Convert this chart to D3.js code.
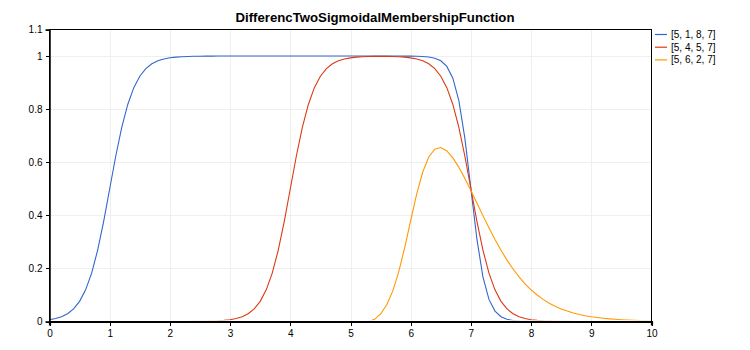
<!DOCTYPE html>
<html>
<head>
<meta charset="utf-8">
<script src="https://cdn.jsdelivr.net/npm/d3@7"></script>
<style>
  html, body { margin: 0; padding: 0; background: #fff; }
  svg { display: block; font-family: "Liberation Sans", Arial, sans-serif; }
</style>
</head>
<body>
<svg id="chart" width="750" height="350"></svg>
<script>
// x samples 0 .. 10, step 0.1
const xValues = d3.range(0, 101).map(i => +(i / 10).toFixed(1));

// [5, 1, 8, 7]
const seriesA = [
  0.0067, 0.0110, 0.0180, 0.0293, 0.0474, 0.0759, 0.1192, 0.1824, 0.2689, 0.3775,
  0.5000, 0.6225, 0.7311, 0.8176, 0.8808, 0.9241, 0.9526, 0.9707, 0.9820, 0.9890,
  0.9933, 0.9959, 0.9975, 0.9985, 0.9991, 0.9994, 0.9997, 0.9998, 0.9999, 0.9999,
  1.0000, 1.0000, 1.0000, 1.0000, 1.0000, 1.0000, 1.0000, 1.0000, 1.0000, 1.0000,
  1.0000, 1.0000, 1.0000, 1.0000, 1.0000, 1.0000, 1.0000, 1.0000, 1.0000, 1.0000,
  1.0000, 1.0000, 1.0000, 1.0000, 1.0000, 1.0000, 1.0000, 1.0000, 0.9999, 0.9998,
  0.9997, 0.9993, 0.9983, 0.9963, 0.9918, 0.9820, 0.9608, 0.9168, 0.8320, 0.6900,
  0.5000, 0.3100, 0.1680, 0.0832, 0.0392, 0.0180, 0.0082, 0.0037, 0.0017, 0.0007,
  0.0003, 0.0002, 0.0001, 0.0000, 0.0000, 0.0000, 0.0000, 0.0000, 0.0000, 0.0000,
  0.0000, 0.0000, 0.0000, 0.0000, 0.0000, 0.0000, 0.0000, 0.0000, 0.0000, 0.0000,
  0.0000
];

// [5, 4, 5, 7]
const seriesB = [
  0.0000, 0.0000, 0.0000, 0.0000, 0.0000, 0.0000, 0.0000, 0.0000, 0.0000, 0.0000,
  0.0000, 0.0000, 0.0000, 0.0000, 0.0000, 0.0000, 0.0000, 0.0000, 0.0000, 0.0000,
  0.0000, 0.0001, 0.0001, 0.0002, 0.0003, 0.0006, 0.0009, 0.0015, 0.0025, 0.0041,
  0.0067, 0.0110, 0.0180, 0.0293, 0.0474, 0.0759, 0.1192, 0.1824, 0.2689, 0.3775,
  0.5000, 0.6225, 0.7311, 0.8176, 0.8808, 0.9241, 0.9526, 0.9707, 0.9820, 0.9890,
  0.9932, 0.9958, 0.9974, 0.9983, 0.9988, 0.9989, 0.9988, 0.9983, 0.9974, 0.9958,
  0.9932, 0.9890, 0.9820, 0.9707, 0.9526, 0.9241, 0.8808, 0.8176, 0.7311, 0.6225,
  0.5000, 0.3775, 0.2689, 0.1824, 0.1192, 0.0759, 0.0474, 0.0293, 0.0180, 0.0110,
  0.0067, 0.0041, 0.0025, 0.0015, 0.0009, 0.0006, 0.0003, 0.0002, 0.0001, 0.0001,
  0.0000, 0.0000, 0.0000, 0.0000, 0.0000, 0.0000, 0.0000, 0.0000, 0.0000, 0.0000,
  0.0000
];

// [5, 6, 2, 7]
const seriesC = [
  0.0000, 0.0000, 0.0000, 0.0000, 0.0000, 0.0000, 0.0000, 0.0000, 0.0000, 0.0000,
  0.0000, 0.0000, 0.0000, 0.0000, 0.0000, 0.0000, 0.0000, 0.0000, 0.0000, 0.0000,
  0.0000, 0.0000, 0.0000, 0.0000, 0.0000, 0.0000, 0.0000, 0.0000, 0.0000, 0.0000,
  0.0000, 0.0000, 0.0000, 0.0000, 0.0000, 0.0000, 0.0000, 0.0000, 0.0000, 0.0000,
  0.0000, 0.0000, 0.0000, 0.0000, 0.0000, 0.0000, 0.0000, 0.0000, 0.0000, 0.0000,
  0.0000, 0.0000, 0.0000, 0.0000, 0.0083, 0.0284, 0.0619, 0.1133, 0.1858, 0.2778,
  0.3808, 0.4806, 0.5631, 0.6198, 0.6493, 0.6552, 0.6425, 0.6164, 0.5807, 0.5388,
  0.4933, 0.4461, 0.3988, 0.3528, 0.3091, 0.2684, 0.2311, 0.1976, 0.1679, 0.1418,
  0.1192, 0.0997, 0.0832, 0.0691, 0.0573, 0.0474, 0.0392, 0.0323, 0.0266, 0.0219,
  0.0180, 0.0148, 0.0121, 0.0099, 0.0082, 0.0067, 0.0055, 0.0045, 0.0037, 0.0030,
  0.0025
];

const seriesNames = ["[5, 1, 8, 7]", "[5, 4, 5, 7]", "[5, 6, 2, 7]"];
const seriesColors = ["#3366CC", "#DC3912", "#FF9900"];
const xTicks = [0, 1, 2, 3, 4, 5, 6, 7, 8, 9, 10];
const yTicks = [0, 0.2, 0.4, 0.6, 0.8, 1, 1.1];
const titleText = "DifferencTwoSigmoidalMembershipFunction";

const svg = d3.select("#chart");
const plot = { left: 49.5, right: 651.5, top: 29.5, bottom: 321.5 };

const x = d3.scaleLinear().domain([0, 10]).range([plot.left, plot.right]);
const y = d3.scaleLinear().domain([0, 1.1]).range([plot.bottom, plot.top]);

// grid
const grid = svg.append("g").attr("stroke", "#efefef").attr("stroke-width", 1).attr("shape-rendering", "crispEdges");
grid.selectAll("line.gx").data(xTicks.slice(1, -1)).join("line")
  .attr("x1", d => Math.round(x(d)) + 0.5).attr("x2", d => Math.round(x(d)) + 0.5)
  .attr("y1", plot.top).attr("y2", plot.bottom);
grid.selectAll("line.gy").data(yTicks.filter(d => d > 0 && d < 1.1)).join("line")
  .attr("x1", plot.left).attr("x2", plot.right)
  .attr("y1", d => Math.round(y(d)) + 0.5).attr("y2", d => Math.round(y(d)) + 0.5);

// curves, clipped just above the thick bottom axis
svg.append("clipPath").attr("id", "plotClip").append("rect")
  .attr("x", plot.left).attr("y", plot.top)
  .attr("width", plot.right - plot.left).attr("height", plot.bottom - plot.top - 1.2);

const line = d3.line().x((d, i) => x(xValues[i])).y(d => y(d));
const curves = svg.append("g").attr("clip-path", "url(#plotClip)");
[seriesA, seriesB, seriesC].forEach((s, i) => {
  curves.append("path").datum(s)
    .attr("fill", "none")
    .attr("stroke", seriesColors[i])
    .attr("stroke-width", 1.1)
    .attr("d", line);
});

// frame
const frame = svg.append("g").attr("stroke", "#000").attr("fill", "none").attr("shape-rendering", "crispEdges");
frame.append("rect")
  .attr("x", plot.left).attr("y", plot.top)
  .attr("width", plot.right - plot.left).attr("height", plot.bottom - plot.top)
  .attr("stroke-width", 1);

// axes
const xAxis = d3.axisBottom(x).tickValues(xTicks).tickFormat(d3.format("d")).tickSize(4).tickPadding(4);
const yAxis = d3.axisLeft(y).tickValues(yTicks).tickFormat(d => String(d)).tickSize(4).tickPadding(3);

const gx = svg.append("g").attr("transform", `translate(0,${plot.bottom})`).call(xAxis);
const gy = svg.append("g").attr("transform", `translate(${plot.left},0)`).call(yAxis);
[gx, gy].forEach(g => {
  g.selectAll(".tick line").attr("stroke", "#000").attr("shape-rendering", "crispEdges");
  g.selectAll(".tick text").attr("fill", "#000").attr("font-size", 10)
    .attr("font-family", "'Liberation Sans', Arial, sans-serif");
});
gx.select(".domain").attr("stroke", "#000").attr("stroke-width", 2.2);
gy.select(".domain").attr("stroke", "#000").attr("stroke-width", 1.5);

// title
svg.append("text")
  .attr("x", 375).attr("y", 22)
  .attr("text-anchor", "middle")
  .attr("font-size", 13.2).attr("font-weight", "bold")
  .attr("fill", "#000")
  .text(titleText);

// legend
const legend = svg.append("g").attr("transform", "translate(655,34)");
seriesNames.forEach((name, i) => {
  const g = legend.append("g").attr("transform", `translate(0,${i * 12.7})`);
  g.append("line").attr("x1", 0).attr("x2", 12).attr("y1", 0.5).attr("y2", 0.5)
    .attr("stroke", seriesColors[i]).attr("stroke-width", 1.2);
  g.append("text").attr("x", 16).attr("y", 4).attr("font-size", 10).attr("fill", "#000").text(name);
});
</script>
</body>
</html>
